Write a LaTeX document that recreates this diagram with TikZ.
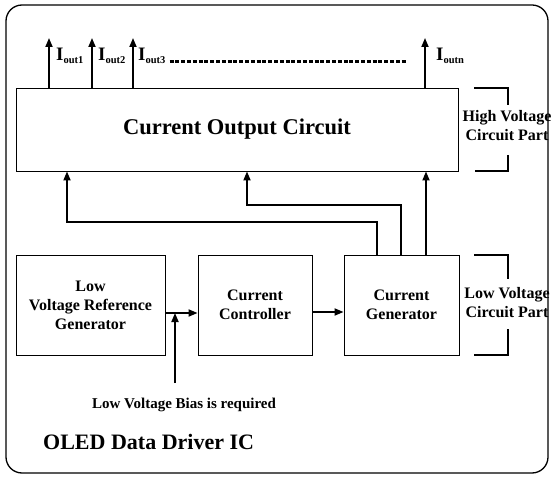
\documentclass[tikz,border=0pt]{standalone}
\usepackage{fontspec}
\setmainfont{Liberation Serif}
\usetikzlibrary{arrows.meta}
\begin{document}
\begin{tikzpicture}[x=1pt,y=-1pt,
  blk/.style={draw, line width=0.9pt, inner sep=0pt, align=center,
    font=\bfseries\fontsize{16}{19}\selectfont},
  arr/.style={line width=1.7pt, -{Triangle[length=9pt,width=7pt]}},
  brk/.style={line width=1.3pt},
  lbl/.style={inner sep=0pt, align=center, font=\bfseries\fontsize{16}{19}\selectfont},
  iout/.style={anchor=base west, inner sep=0pt, font=\bfseries\fontsize{19}{19}\selectfont}]
\useasboundingbox (0,0) rectangle (554,478);
% outer frame
\node[draw, line width=1.3pt, rounded corners=16pt, minimum width=542pt, minimum height=468pt, inner sep=0pt] (ic) at (277,239) {};
% blocks
\node[blk, minimum width=442pt, minimum height=83pt, font=\bfseries\fontsize{22.5}{26}\selectfont] (cout) at (237,129.5) {Current Output Circuit};
\node[blk, minimum width=149pt, minimum height=100pt] (lvrg) at (90.5,305) {Low\\Voltage Reference\\Generator};
\node[blk, minimum width=114pt, minimum height=100pt] (cc) at (255,305) {Current\\Controller};
\node[blk, minimum width=115pt, minimum height=100pt] (cg) at (401.5,305) {Current\\Generator};
% output arrows
\coordinate (o1) at (49,38);
\coordinate (o2) at (92,38);
\coordinate (o3) at (133,38);
\coordinate (on) at (425,38);
\draw[arr] (cout.north -| o1) -- (o1);
\draw[arr] (cout.north -| o2) -- (o2);
\draw[arr] (cout.north -| o3) -- (o3);
\draw[arr] (cout.north -| on) -- (on);
\node[iout] (l1) at (56,61) {I\raisebox{-3pt}{\fontsize{10.5}{10.5}\selectfont out1}};
\node[iout] (l2) at (98,61) {I\raisebox{-3pt}{\fontsize{10.5}{10.5}\selectfont out2}};
\node[iout] (l3) at (138,61) {I\raisebox{-3pt}{\fontsize{10.5}{10.5}\selectfont out3}};
\node[iout] (ln) at (436,61) {I\raisebox{-3pt}{\fontsize{10.5}{10.5}\selectfont outn}};
\coordinate (d2) at (407,62);
\draw[line width=3pt, dash pattern=on 4pt off 1.8pt] ([xshift=4pt]l3.east |- d2) -- (d2);
% feedback connections
\draw[arr] (cg.north -| 377,0) |- (67,222) -- (cout.south -| 67,0);
\draw[arr] (cg.north -| 401,0) |- (247,205) -- (cout.south -| 247,0);
\draw[arr] (cg.north -| 426,0) -- (cout.south -| 426,0);
% low path
\coordinate (j) at (175,313);
\coordinate (b0) at (175,383);
\draw[arr] (lvrg.east |- j) -- (cc.west |- j);
\draw[arr] (b0) -- (j);
\draw[arr] (cc.east |- 0,312) -- (cg.west |- 0,312);
% brackets
\draw[brk] (474,88) -- (508,88) -- (508,105);
\draw[brk] (508,155) -- (508,171) -- (475,171);
\draw[brk] (474,255) -- (508,255) -- (508,279);
\draw[brk] (508,329) -- (508,355) -- (474,355);
\node[lbl] (hv) at (507,126) {High Voltage\\Circuit Part};
\node[lbl] (lv) at (507,303) {Low Voltage\\Circuit Part};
% texts
\node[inner sep=0pt, font=\bfseries\fontsize{15}{18}\selectfont] (bias) at (184,405) {Low Voltage Bias is required};
\node[anchor=west, inner sep=0pt, font=\bfseries\fontsize{22}{26}\selectfont] (oled) at (43,442) {OLED Data Driver IC};
\end{tikzpicture}
\end{document}
